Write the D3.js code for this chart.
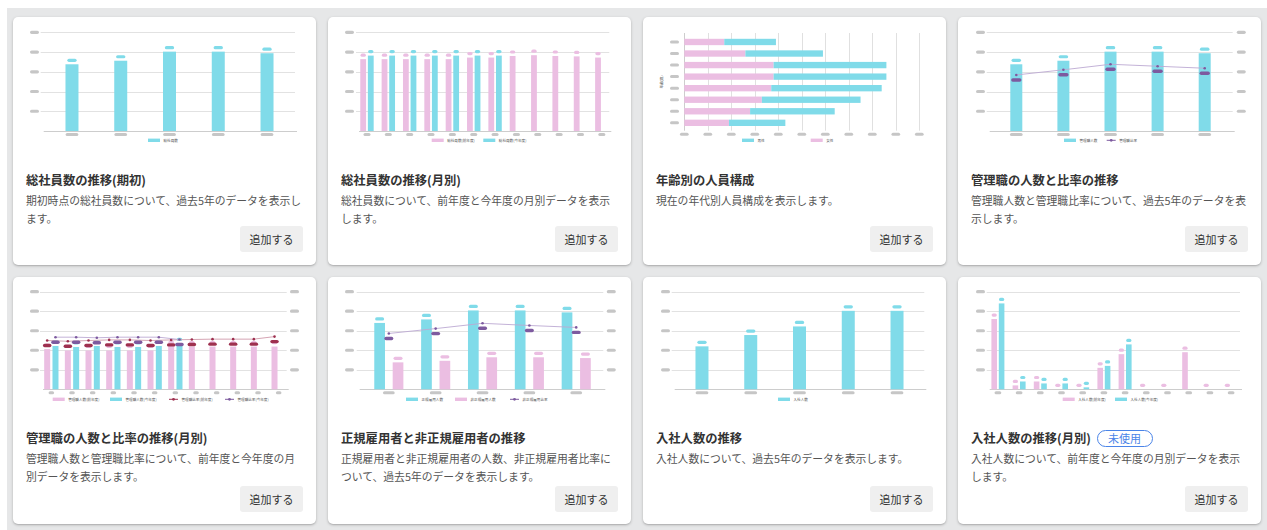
<!DOCTYPE html>
<html>
<head>
<meta charset="utf-8">
<script src="https://cdn.jsdelivr.net/npm/d3@7"></script>
<style>
body{margin:0;background:#fff;font-family:"Noto Sans CJK JP","Noto Sans",sans-serif;}
#panel{position:absolute;left:7px;top:8px;width:1260px;height:522px;background:#e6e7e8;}
.card{position:absolute;width:303px;background:#fff;border-radius:5px;box-shadow:0 1px 3px rgba(0,0,0,.22),0 1px 1px rgba(0,0,0,.08);}
.card svg{position:absolute;left:0;top:0;}
.title{position:absolute;left:13px;font-size:12.3px;font-weight:700;color:#333;line-height:18px;white-space:nowrap;}
.desc{position:absolute;left:13px;width:277px;font-size:10.8px;color:#555;line-height:18.3px;}
.btn{position:absolute;left:227px;top:209px;width:63px;height:26px;background:#efefef;border-radius:3px;font-size:11px;color:#333;text-align:center;line-height:26px;}
.badge{position:absolute;left:138.5px;width:54px;height:15px;border:1px solid #4a84e8;border-radius:9px;color:#4a84e8;font-size:11px;line-height:15px;text-align:center;}
</style>
</head>
<body>
<div id="panel"></div>
<script>
// categories
var years = ['2019', '2020', '2021', '2022', '2023'];
var months = ['4月', '5月', '6月', '7月', '8月', '9月', '10月', '11月', '12月', '1月', '2月', '3月'];
var ageGroups = ['〜24', '25〜29', '30〜34', '35〜39', '40〜44', '45〜49', '50〜54', '55〜'];

// series values
var headcountStart = [169, 178, 201, 201, 197];
var headcountPrev = [182, 182, 182, 182, 182, 186, 186, 190, 192, 190, 189, 186];
var headcountCur = [191, 191, 191, 191, 191, 191, 191];
var ageFemale = [17, 26, 38, 38, 37, 33, 28, 19];
var ageMale = [22, 33, 48, 48, 47, 42, 36, 24];
var managers = [169, 178, 201, 201, 197];
var managerRatio = [14.2, 15.5, 16.9, 16.4, 15.9];
var mgrPrev = [20.6, 19.9, 19.9, 19.9, 19.9, 19.9, 22.1, 21.9, 21.9, 21.9, 21.9, 21.9];
var mgrCur = [22.2, 21.7, 22.2, 21.7, 21.7, 22.2, 23.5];
var mgrRatioPrev = [25.0, 24.6, 25.0, 25.3, 25.3, 25.0, 25.3, 25.5, 25.7, 25.7, 25.7, 27.0];
var mgrRatioCur = [26.7, 26.7, 26.4, 26.7, 26.7, 26.7, 25.5];
var regular = [170, 179, 202, 202, 197];
var nonRegular = [69, 73, 82, 82, 80];
var nonRegRatio = [28.6, 31.1, 33.8, 32.7, 31.7];
var hires = [110, 139, 161, 201, 201];
var hiresPrev = [36, 2, 4, 0, 0, 11, 18, 0, 0, 19, 0, 0];
var hiresCur = [44, 4, 3, 3, 1, 12, 23];

var CYAN = '#80dbe9', PINK = '#ebbee2', PURPLE = '#7d5a9f', PURPLE_LINE = '#bca9d3',
    RED = '#9e304f', RED_LINE = '#d09aaa', PILL = '#c6c6c6';

var cardX = [13, 328, 643, 958];
var rows = [
  {y:17, h:248, top:15.3, base:114, legend:123.3, xlab:117.5, titleTop:154, descTop:173.9},
  {y:277, h:247, top:14.7, base:112.3, legend:122.3, xlab:115.7, titleTop:152.3, descTop:171.5}
];

function pill(g, cx, cy, w, h, color){
  g.append('rect').attr('x', cx - w/2).attr('y', cy - h/2)
    .attr('width', w).attr('height', h).attr('rx', h/2).attr('fill', color);
}

function legend(svg, items, xs, y){
  var g = svg.append('g');
  items.forEach(function(d, i){
    var x = xs[i], w = d.type == 'line' ? 9 : 12;
    if(d.type == 'line'){
      g.append('line').attr('x1', x).attr('x2', x + w).attr('y1', y).attr('y2', y)
        .attr('stroke', d.color).attr('stroke-width', 1);
      g.append('circle').attr('cx', x + w/2).attr('cy', y).attr('r', 1.4).attr('fill', d.color);
    } else {
      g.append('rect').attr('x', x).attr('y', y - 1.7).attr('width', w).attr('height', 3.4).attr('fill', d.color);
    }
    g.append('text').attr('x', x + w + 3.5).attr('y', y + 1.2)
      .attr('font-size', 3.6).attr('fill', '#555').text(d.name);
  });
}

function comboChart(svg, c, r){
  var y = d3.scaleLinear().domain(c.yDomain).range([r.base, r.top]);
  var x = d3.scaleBand().domain(c.cats).range(c.xRange);
  var ticks = y.ticks(5);

  svg.append('g').selectAll('line').data(ticks.slice(1)).join('line')
    .attr('x1', c.grid[0]).attr('x2', c.grid[1])
    .attr('y1', function(d){ return Math.round(y(d)) + 0.5; })
    .attr('y2', function(d){ return Math.round(y(d)) + 0.5; })
    .attr('stroke', '#e2e2e2');
  svg.append('line').attr('x1', c.grid[0] + 3).attr('x2', c.grid[1] + 2)
    .attr('y1', Math.round(y(0)) + 0.5).attr('y2', Math.round(y(0)) + 0.5)
    .attr('stroke', '#cdcdcd');

  var pg = svg.append('g');
  ticks.slice(1).forEach(function(t){ pill(pg, c.yPill, y(t), 9, 3.2, PILL); });
  var y2 = null;
  if(c.y2Domain){
    y2 = d3.scaleLinear().domain(c.y2Domain).range([r.base, r.top]);
    y2.ticks(5).slice(1).forEach(function(t){ pill(pg, c.y2Pill, y2(t), 9, 3.2, PILL); });
  }
  c.cats.forEach(function(cat){
    pill(pg, x(cat) + x.bandwidth()/2, r.xlab, c.xPillW, 3, PILL);
  });

  var n = c.bars.length, gap = c.gap || 0;
  var gw = n * c.bw + (n - 1) * gap;
  var centers = {};
  c.bars.forEach(function(s, i){
    var off = -gw/2 + i * (c.bw + gap);
    centers[s.name] = off + c.bw/2;
    var g = svg.append('g');
    var data = s.values.map(function(v, j){ return {cat: c.cats[j], v: v}; });
    g.selectAll('rect').data(data).join('rect')
      .attr('x', function(d){ return x(d.cat) + x.bandwidth()/2 + off; })
      .attr('y', function(d){ return y(d.v); })
      .attr('width', c.bw)
      .attr('height', function(d){ return y(0) - y(d.v); })
      .attr('fill', s.color);
    data.forEach(function(d){
      pill(g, x(d.cat) + x.bandwidth()/2 + off + c.bw/2, y(d.v) - 4, c.labelW, 3.2, s.color);
    });
  });

  (c.lines || []).forEach(function(s){
    var dx = s.at ? centers[s.at] : 0;
    var data = s.values.map(function(v, j){ return {cat: c.cats[j], v: v}; });
    var line = d3.line()
      .x(function(d){ return x(d.cat) + x.bandwidth()/2 + dx; })
      .y(function(d){ return y2(d.v); });
    var g = svg.append('g');
    g.append('path').datum(data).attr('d', line).attr('fill', 'none')
      .attr('stroke', s.lineColor).attr('stroke-width', 0.9);
    g.selectAll('circle').data(data).join('circle')
      .attr('cx', function(d){ return x(d.cat) + x.bandwidth()/2 + dx; })
      .attr('cy', function(d){ return y2(d.v); })
      .attr('r', 1.3).attr('fill', s.color);
    data.forEach(function(d){
      pill(g, x(d.cat) + x.bandwidth()/2 + dx, y2(d.v) + 5, c.lineLabelW, 3.4, s.color);
    });
  });

  legend(svg, c.bars.map(function(s){ return {name: s.name, color: s.color, type: 'bar'}; })
    .concat((c.lines || []).map(function(s){ return {name: s.name, color: s.color, type: 'line'}; })),
    c.legendX, r.legend);
}

function stackedHBar(svg, r){
  var x = d3.scaleLinear().domain([0, 100]).range([41.3, 276.3]);
  var y = d3.scaleBand().domain(ageGroups).range([16.6, 114.2]).padding(0.45);
  var ticks = x.ticks(10);
  svg.append('g').selectAll('line').data(ticks).join('line')
    .attr('x1', function(d){ return Math.round(x(d)) + 0.5; })
    .attr('x2', function(d){ return Math.round(x(d)) + 0.5; })
    .attr('y1', 16).attr('y2', 113.7)
    .attr('stroke', function(d){ return d == 0 ? '#cdcdcd' : '#e0e0e0'; });
  var pg = svg.append('g');
  ticks.forEach(function(t){ pill(pg, x(t), 117.3, 8.7, 3, PILL); });
  ageGroups.forEach(function(a){ pill(pg, 31.5, y(a) + y.bandwidth()/2, 9, 3, PILL); });

  var g = svg.append('g');
  g.selectAll('rect.f').data(ageFemale).join('rect').attr('class', 'f')
    .attr('x', x(0)).attr('y', function(d, i){ return y(ageGroups[i]); })
    .attr('width', function(d){ return x(d) - x(0); })
    .attr('height', y.bandwidth()).attr('fill', PINK);
  g.selectAll('rect.m').data(ageMale).join('rect').attr('class', 'm')
    .attr('x', function(d, i){ return x(ageFemale[i]); })
    .attr('y', function(d, i){ return y(ageGroups[i]); })
    .attr('width', function(d, i){ return x(ageFemale[i] + d) - x(ageFemale[i]); })
    .attr('height', y.bandwidth()).attr('fill', CYAN);

  svg.append('text').attr('transform', 'translate(19.5,65) rotate(-90)')
    .attr('text-anchor', 'middle').attr('font-size', 3.6).attr('fill', '#444').text('年齢(歳)');

  legend(svg, [{name: '男性', color: CYAN}, {name: '女性', color: PINK}], [99, 167.7], r.legend);
}

var cards = [
  {title: '総社員数の推移(期初)', desc: '期初時点の総社員数について、過去5年のデータを表示します。',
   chart: {cats: years, yDomain: [0, 250], grid: [27.7, 282], xRange: [34.6, 278.4], yPill: 21.5,
     bars: [{name: '総社員数', values: headcountStart, color: CYAN}], bw: 13, labelW: 9.3, xPillW: 12.7, legendX: [135]}},
  {title: '総社員数の推移(月別)', desc: '総社員数について、前年度と今年度の月別データを表示します。',
   chart: {cats: months, yDomain: [0, 250], grid: [28, 281.3], xRange: [28.3, 284.5], yPill: 21.5,
     bars: [{name: '総社員数(前年度)', values: headcountPrev, color: PINK},
            {name: '総社員数(今年度)', values: headcountCur, color: CYAN}],
     bw: 5.8, gap: 1.8, labelW: 5.3, xPillW: 7, legendX: [103.7, 155.3]}},
  {title: '年齢別の人員構成', desc: '現在の年代別人員構成を表示します。', hbar: true},
  {title: '管理職の人数と比率の推移', desc: '管理職人数と管理職比率について、過去5年のデータを表示します。',
   chart: {cats: years, yDomain: [0, 250], y2Domain: [0, 25], grid: [28.7, 274.7], xRange: [34.75, 270.25],
     yPill: 22.5, y2Pill: 283.3,
     bars: [{name: '管理職人数', values: managers, color: CYAN}],
     lines: [{name: '管理職比率', values: managerRatio, color: PURPLE, lineColor: PURPLE_LINE}],
     bw: 12, labelW: 9.5, lineLabelW: 10.3, xPillW: 12.7, legendX: [106, 148.7]}},
  {title: '管理職の人数と比率の推移(月別)', desc: '管理職人数と管理職比率について、前年度と今年度の月別データを表示します。',
   chart: {cats: months, yDomain: [0, 50], y2Domain: [0, 50], grid: [27, 273.7], xRange: [28, 276],
     yPill: 21.5, y2Pill: 281.5,
     bars: [{name: '管理職人数(前年度)', values: mgrPrev, color: PINK},
            {name: '管理職人数(今年度)', values: mgrCur, color: CYAN}],
     lines: [{name: '管理職比率(前年度)', values: mgrRatioPrev, color: RED, lineColor: RED_LINE, at: '管理職人数(前年度)'},
             {name: '管理職比率(今年度)', values: mgrRatioCur, color: PURPLE, lineColor: PURPLE_LINE, at: '管理職人数(今年度)'}],
     bw: 6, gap: 2.3, labelW: 5.5, lineLabelW: 8.5, xPillW: 5.5, legendX: [39.7, 97, 156, 212]}},
  {title: '正規雇用者と非正規雇用者の推移', desc: '正規雇用者と非正規雇用者の人数、非正規雇用者比率について、過去5年のデータを表示します。',
   chart: {cats: years, yDomain: [0, 250], y2Domain: [0, 50], grid: [28.7, 275.3], xRange: [37.4, 271.65],
     yPill: 21.5, y2Pill: 283.3,
     bars: [{name: '正規雇用人数', values: regular, color: CYAN},
            {name: '非正規雇用人数', values: nonRegular, color: PINK}],
     lines: [{name: '非正規雇用比率', values: nonRegRatio, color: PURPLE, lineColor: PURPLE_LINE}],
     bw: 10.7, gap: 7.7, labelW: 9, lineLabelW: 9, xPillW: 11.7, legendX: [78, 127, 182]}},
  {title: '入社人数の推移', desc: '入社人数について、過去5年のデータを表示します。',
   chart: {cats: years, yDomain: [0, 250], grid: [28.7, 281.3], xRange: [34.6, 278.4], yPill: 22.5,
     bars: [{name: '入社人数', values: hires, color: CYAN}], bw: 13, labelW: 9.3, xPillW: 12.7, legendX: [135]}},
  {title: '入社人数の推移(月別)', badge: '未使用', desc: '入社人数について、前年度と今年度の月別データを表示します。',
   chart: {cats: months, yDomain: [0, 50], grid: [28.7, 282], xRange: [29.3, 283.7], yPill: 22.5,
     bars: [{name: '入社人数(前年度)', values: hiresPrev, color: PINK},
            {name: '入社人数(今年度)', values: hiresCur, color: CYAN}],
     bw: 5.6, gap: 1.8, labelW: 5.2, xPillW: 6.7, legendX: [104.7, 157]}}
];

cards.forEach(function(d, i){
  var r = rows[Math.floor(i / 4)];
  var card = d3.select('body').append('div').attr('class', 'card')
    .style('left', cardX[i % 4] + 'px').style('top', r.y + 'px').style('height', r.h + 'px');
  var svg = card.append('svg').attr('width', 303).attr('height', 140);
  if(d.hbar) stackedHBar(svg, r);
  else comboChart(svg, d.chart, r);
  card.append('div').attr('class', 'title').style('top', r.titleTop + 'px').text(d.title);
  if(d.badge) card.append('div').attr('class', 'badge').style('top', (r.titleTop + 0.5) + 'px').text(d.badge);
  card.append('div').attr('class', 'desc').style('top', r.descTop + 'px').text(d.desc);
  card.append('div').attr('class', 'btn').text('追加する');
});
</script>
</body>
</html>
